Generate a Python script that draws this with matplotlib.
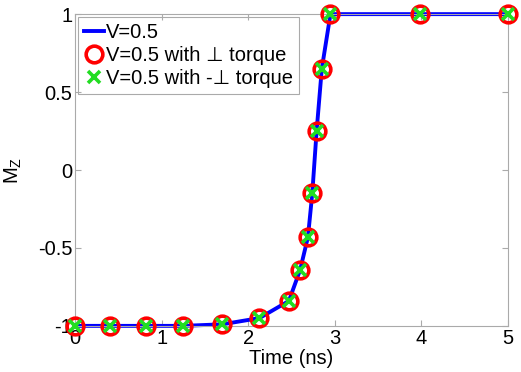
from matplotlib import pyplot as plt

plt.rcParams['font.family'] = ['Liberation Sans', 'DejaVu Sans']

# time (ns) and Mz
time_ns = [0.0, 0.4, 0.82, 1.25, 1.7, 2.13, 2.47, 2.6, 2.69, 2.74, 2.79, 2.85, 2.95, 3.98, 5.0]
mz = [-1.0, -1.0, -1.0, -1.0, -0.99, -0.95, -0.84, -0.64, -0.43, -0.15, 0.25, 0.65, 1.0, 1.0, 1.0]
mz_perp = mz
mz_negperp = mz

labels = ['V=0.5', 'V=0.5 with \u22a5 torque', 'V=0.5 with -\u22a5 torque']

fig = plt.figure(figsize=(5.21, 3.72), dpi=100)
ax = fig.add_axes([0.144, 0.124, 0.831, 0.838])

l1, = ax.plot(time_ns, mz, color='#0000ff', lw=2.8, label=labels[0], zorder=2,
              clip_on=False)
l2, = ax.plot(time_ns, mz_perp, ls='none', marker='o', ms=12, mfc='none',
              mec='#ff0000', mew=2.6, label=labels[1], zorder=3, clip_on=False)
l3, = ax.plot(time_ns, mz_negperp, ls='none', marker='x', ms=8, mec='#22dd22',
              mew=2.6, label=labels[2], zorder=4, clip_on=False)

ax.set_xlim(0, 5)
ax.set_ylim(-1, 1)
ax.set_xticks([0, 1, 2, 3, 4, 5])
ax.set_yticks([-1, -0.5, 0, 0.5, 1])
ax.set_yticklabels(['-1', '-0.5', '0', '0.5', '1'])
ax.tick_params(direction='in', top=True, right=True, labelsize=14.5,
               color='#aaaaaa', length=4, pad=2)
for s in ax.spines.values():
    s.set_color('#aaaaaa')
    s.set_linewidth(0.8)

ax.set_xlabel('Time (ns)', fontsize=14.5, labelpad=1)
ax.set_ylabel('M$_\\mathregular{Z}$', fontsize=14.5, labelpad=10)

leg = ax.legend(handles=[l1, l2, l3], loc='upper left', fontsize=14.5,
                handlelength=1.0, handletextpad=0.1, borderaxespad=0.15,
                borderpad=0.3, labelspacing=0.2, fancybox=False, framealpha=1)
leg.get_frame().set_edgecolor('#aaaaaa')
leg.get_frame().set_linewidth(0.8)
leg.set_zorder(1)

fig.savefig('out.png', dpi=100)
